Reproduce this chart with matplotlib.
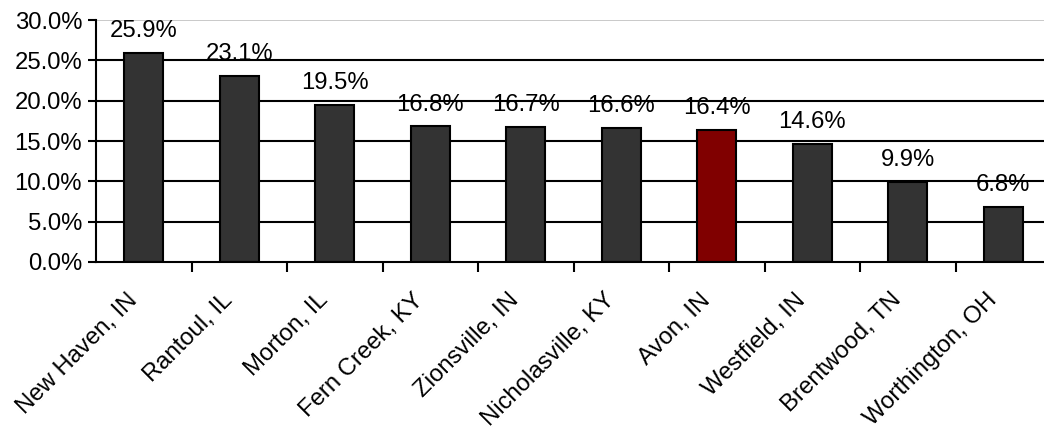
import matplotlib
matplotlib.use("Agg")
import matplotlib.pyplot as plt
import matplotlib.transforms as mtransforms
import numpy as np

plt.rcParams['font.family'] = ['Liberation Sans', 'DejaVu Sans']

categories = ["New Haven, IN", "Rantoul, IL", "Morton, IL", "Fern Creek, KY", "Zionsville, IN",
              "Nicholasville, KY", "Avon, IN", "Westfield, IN", "Brentwood, TN", "Worthington, OH"]
values = [25.9, 23.1, 19.5, 16.8, 16.7, 16.6, 16.4, 14.6, 9.9, 6.8]
highlight = "Avon, IN"
yticks = [0, 5, 10, 15, 20, 25, 30]

FS = 17.2
W, H = 1044, 430
fig = plt.figure(figsize=(W/100, H/100), dpi=100)
ax = fig.add_axes([96/W, (H-262)/H, (1051-96)/W, (262-20)/H])

x = np.arange(len(categories))
colors = ['#800000' if c == highlight else '#333333' for c in categories]
ax.bar(x, values, width=0.41, color=colors, edgecolor='black', linewidth=1.5, zorder=3)

for yv in yticks[1:]:
    ax.axhline(yv, color='#c0c0c0' if yv == 30 else 'black', linewidth=1.5 if yv < 30 else 1.2, zorder=1)

for xi, v in zip(x, values):
    ax.annotate(f"{v:.1f}%", (xi, v), xytext=(0, 11.5), textcoords='offset points',
                ha='center', va='baseline', fontsize=FS, zorder=4)

ax.set_xlim(-0.5, len(categories) - 0.5)
ax.set_ylim(0, 30)
ax.set_yticks(yticks)
ax.set_yticklabels([f"{t:.1f}%" for t in yticks], fontsize=FS)
ax.tick_params(axis='y', direction='out', length=6, width=1.5, pad=4)

ax.set_xticks(x)
ax.set_xticklabels(categories, rotation=45, ha='right', va='center', rotation_mode='anchor', fontsize=FS)
ax.tick_params(axis='x', which='major', length=0, pad=25)
ax.set_xticks(np.arange(0.5, len(categories) - 0.5, 1.0), minor=True)
ax.tick_params(axis='x', which='minor', direction='out', length=7, width=1.5)

offset = mtransforms.ScaledTranslation(-10/100, 0, fig.dpi_scale_trans)
for lab in ax.get_xticklabels():
    lab.set_transform(lab.get_transform() + offset)

for s in ['top', 'right']:
    ax.spines[s].set_visible(False)
for s in ['left', 'bottom']:
    ax.spines[s].set_linewidth(1.5)
    ax.spines[s].set_color('black')
    ax.spines[s].set_zorder(5)

fig.savefig("out.png", dpi=100)
